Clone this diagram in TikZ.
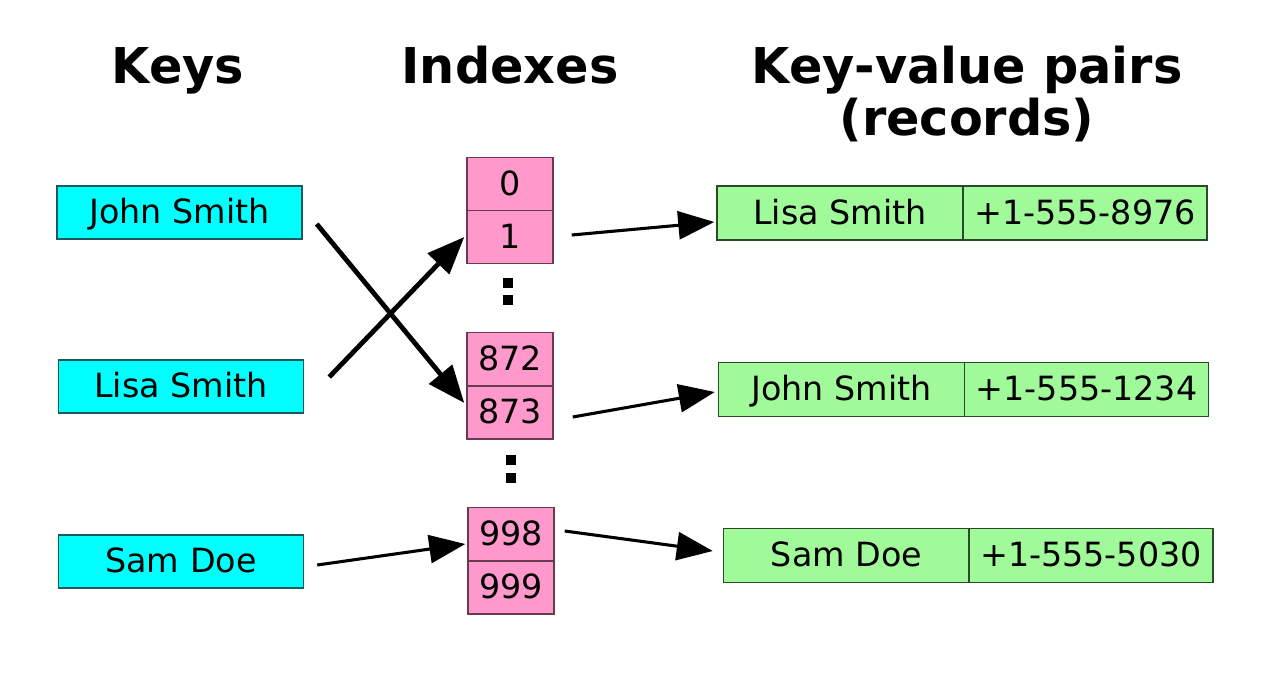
\documentclass[tikz,border=0pt]{standalone}
\usepackage{fontspec}
\setmainfont{DejaVu Sans}
\usetikzlibrary{arrows.meta,calc}
\definecolor{keyfill}{HTML}{00FFFF}
\definecolor{keyline}{HTML}{1A5A5A}
\definecolor{idxfill}{HTML}{FF99CC}
\definecolor{idxline}{HTML}{6A3A50}
\definecolor{recfill}{HTML}{A0FA9A}
\definecolor{recline}{HTML}{2A4A2A}
\begin{document}
\begin{tikzpicture}[x=0.75pt,y=-0.75pt,
  boxtext/.style={font=\fontsize{25}{29}\selectfont,inner sep=0pt,line width=1.1pt,text height=18pt,text depth=1pt},
  keybox/.style={boxtext,draw=keyline,fill=keyfill,minimum width=183.75pt,minimum height=39.75pt},
  idxbox/.style={boxtext,draw=idxline,fill=idxfill,minimum width=64.5pt,minimum height=39.75pt},
  namebox/.style={boxtext,draw=recline,fill=recfill,minimum width=184.5pt,minimum height=40.5pt},
  phonebox/.style={boxtext,draw=recline,fill=recfill,minimum width=183pt,minimum height=40.5pt},
  title/.style={font=\fontsize{37}{41}\selectfont\bfseries,anchor=base,inner sep=0pt},
  dotsq/.style={fill=black,minimum size=7.5pt,inner sep=0pt},
  bigarr/.style={line width=3.6pt,-{Triangle[length=28pt,width=22pt]}},
  arr/.style={line width=2.3pt,-{Triangle[length=27pt,width=21pt]}}
]
\useasboundingbox (0,0) rectangle (1280,688);

% titles
\node[title] (tkeys) at (178,84) {Keys};
\node[title] (tidx) at (510,84) {Indexes};
\node[title] (tkv) at (967,84) {Key-value pairs};
\node[title] (trec) at (967,136) {(records)};

% keys
\node[keybox] (kjohn) at (179.5,212.5) {John Smith};
\node[keybox] (klisa) at (181,386.5) {Lisa Smith};
\node[keybox] (ksam) at (181,561.5) {Sam Doe};

% indexes
\node[idxbox] (i0) at (510,184) {0};
\node[idxbox] (i1) at (510,237) {1};
\node[idxbox] (i872) at (510,359) {872};
\node[idxbox] (i873) at (510,412.5) {873};
\node[idxbox] (i998) at (511,534) {998};
\node[idxbox] (i999) at (511,587.5) {999};

% vertical dots
\node[dotsq] (d1a) at (508,283) {};
\node[dotsq] (d1b) at (508,300) {};
\node[dotsq] (d2a) at (511,460) {};
\node[dotsq] (d2b) at (511,478) {};

% records
\node[namebox] (rlisa) at (840,213) {Lisa Smith};
\node[phonebox] (rlisap) at (1085,213) {+1-555-8976};
\node[namebox] (rjohn) at (841.5,389.5) {John Smith};
\node[phonebox] (rjohnp) at (1086.5,389.5) {+1-555-1234};
\node[namebox] (rsam) at (846.5,555.5) {Sam Doe};
\node[phonebox] (rsamp) at (1091,555.5) {+1-555-5030};

% arrows keys -> indexes
\draw[bigarr] ($(kjohn.east)+(14,11.5)$) -- ($(i873.west)+(-2,-9.5)$);
\draw[bigarr] ($(klisa.east)+(25,-9.5)$) -- ($(i1.west)+(-2,0)$);
\draw[arr] ($(ksam.east)+(13,3.5)$) -- ($(i998.west)+(-2,10)$);

% arrows indexes -> records
\draw[arr] ($(i1.east)+(18,-2)$) -- ($(rlisa.west)+(-2,9)$);
\draw[arr] ($(i873.east)+(19,4.5)$) -- ($(rjohn.west)+(-3,2.5)$);
\draw[arr] ($(i998.east)+(10,-3)$) -- ($(rsam.west)+(-10,-4.5)$);
\end{tikzpicture}
\end{document}
